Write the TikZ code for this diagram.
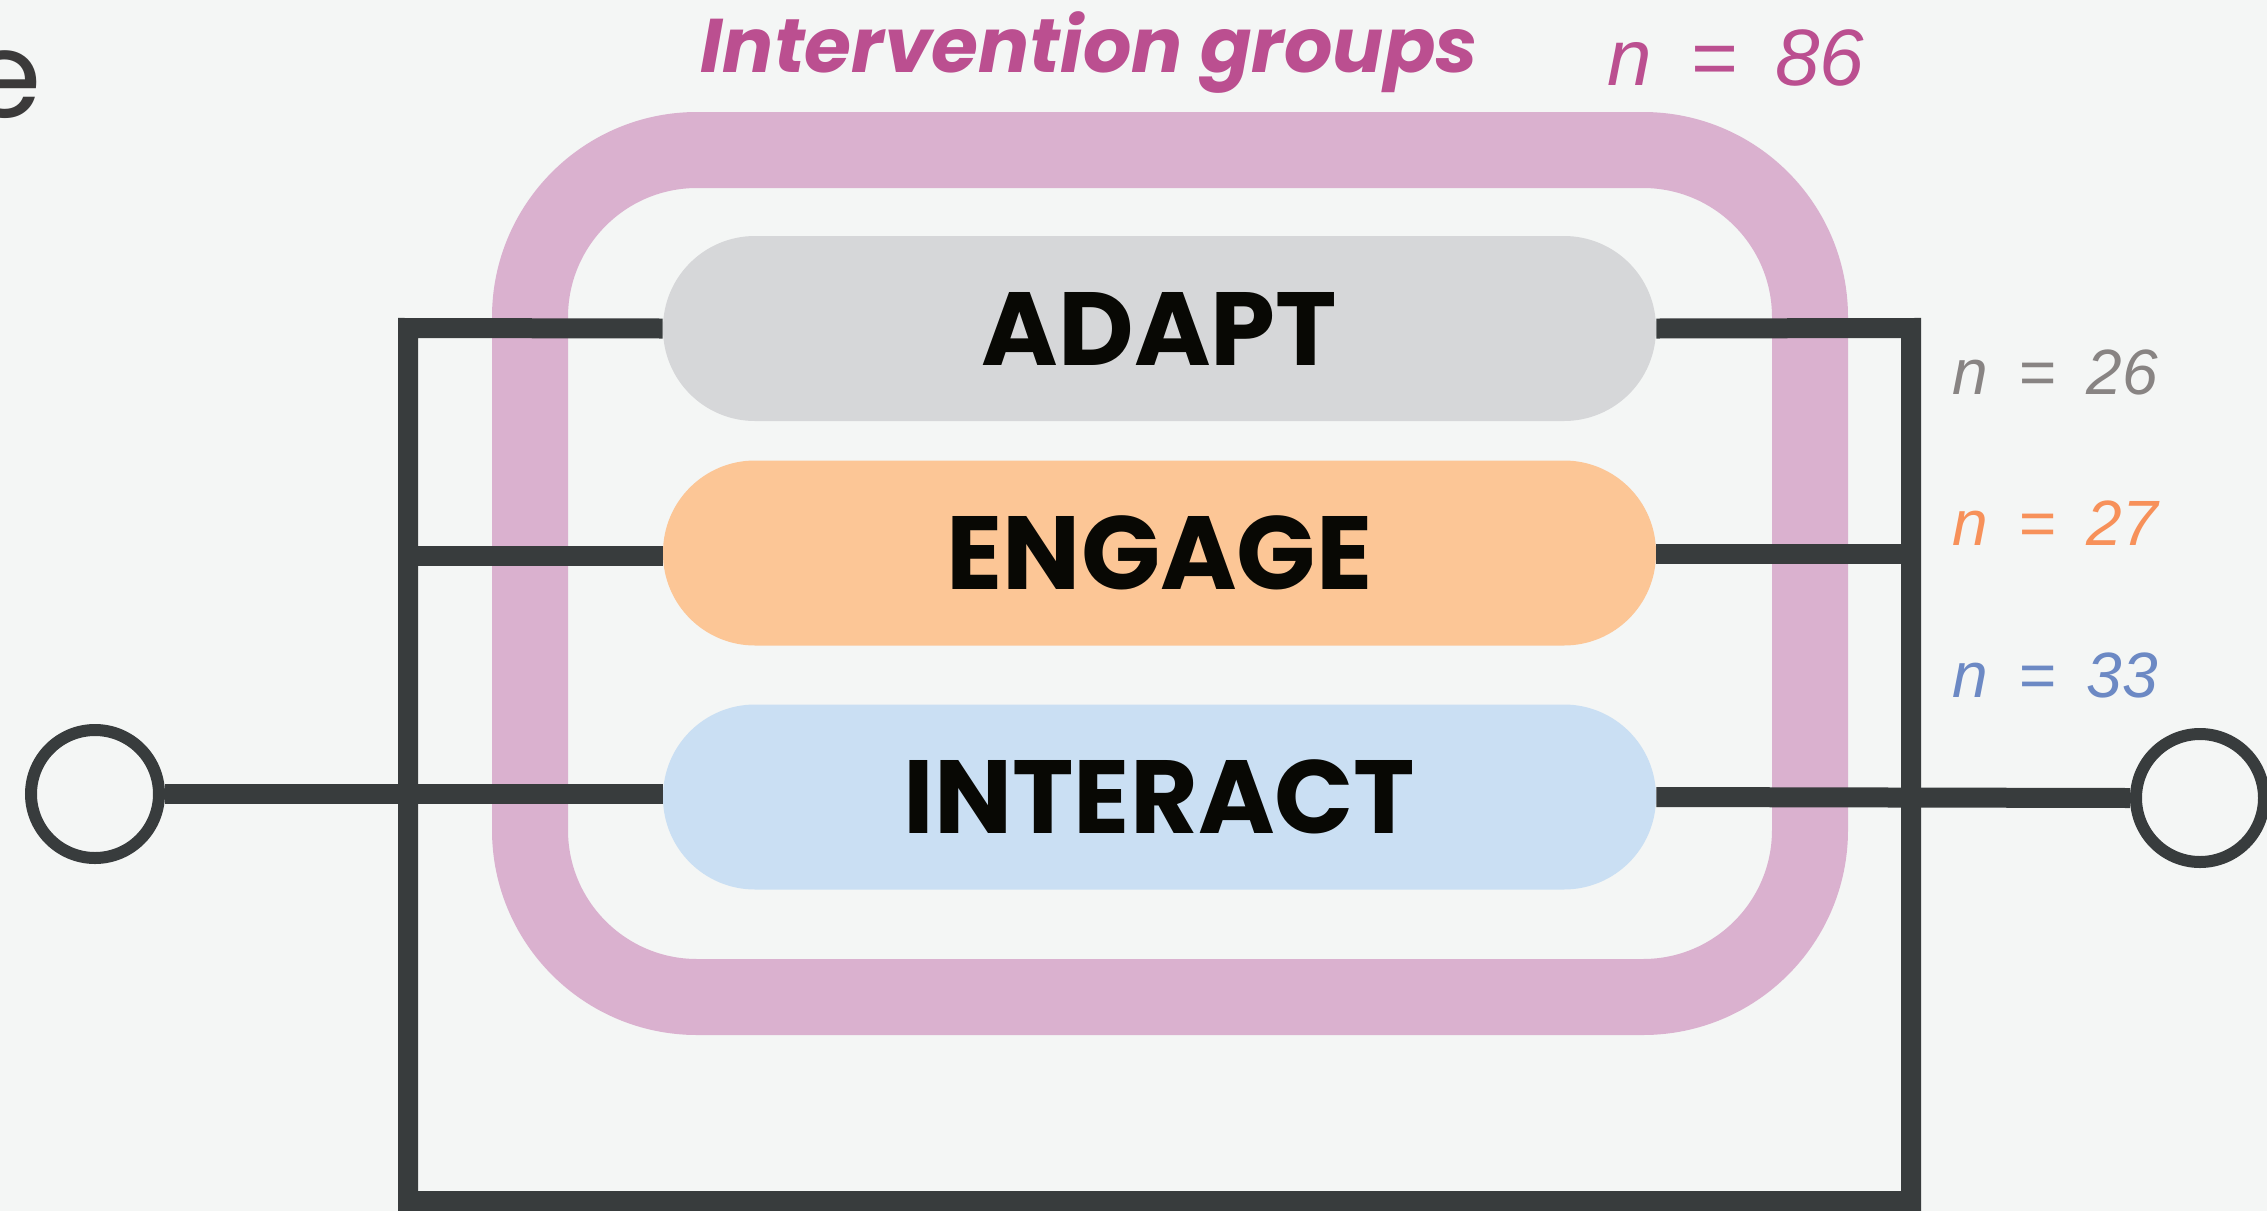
\documentclass[tikz,border=0pt]{standalone}
\usepackage{fontspec}
\setmainfont{Liberation Sans}
\newfontfamily\popfont{Poppins}
\newfontfamily\nfont{Liberation Sans}
\definecolor{bgc}{HTML}{F4F6F5}
\definecolor{darkc}{HTML}{383C3D}
\definecolor{pinkc}{HTML}{DAB1CF}
\definecolor{adaptc}{HTML}{D6D7D9}
\definecolor{engagec}{HTML}{FCC696}
\definecolor{interactc}{HTML}{CADFF3}
\definecolor{titlec}{HTML}{BB4F90}
\definecolor{graync}{HTML}{888483}
\definecolor{orangenc}{HTML}{F7915A}
\definecolor{bluenc}{HTML}{6C89C4}
\definecolor{txtc}{HTML}{080804}
\definecolor{ec}{HTML}{3B3A3A}
\newcommand{\nsp}{\hspace{0.48em}}
\begin{document}
\begin{tikzpicture}[x=0.5pt,y=-0.5pt,
  grpbox/.style={rectangle, rounded corners=46pt, minimum width=496.5pt, minimum height=92.5pt,
    inner sep=0pt, text=txtc, font=\popfont\bfseries\fontsize{52}{52}\selectfont},
  endcirc/.style={circle, draw=darkc, line width=6pt, fill=bgc, minimum size=64pt, inner sep=0pt},
  darkline/.style={draw=darkc, line width=10pt},
  nlabel/.style={anchor=base west, inner sep=0pt, font=\nfont\itshape\fontsize{32}{32}\selectfont}
]
\useasboundingbox (0,0) rectangle (2267,1211);
\fill[bgc] (0,0) rectangle (2267,1211);

% partial letter at top-left
\node[anchor=base east, inner sep=0pt, text=ec, font=\popfont\fontsize{60}{60}\selectfont] (frag) at (42,117) {e};

% intervention group outline
\draw[pinkc, line width=38pt, rounded corners=83.5pt] (530,150) rectangle (1810,997);

% title
\node[anchor=base west, inner sep=0pt, text=titlec, font=\popfont\bfseries\itshape\fontsize{38}{38}\selectfont] (title) at (700,72) {Intervention groups};
\node[anchor=base west, inner sep=0pt, text=titlec, font=\nfont\itshape\fontsize{40}{40}\selectfont] (ntot) at (1607,85) {n\nsp=\nsp86};

% group boxes
\node[grpbox, fill=adaptc] (adapt) at (1159.5,328.5) {ADAPT};
\node[grpbox, fill=engagec] (engage) at (1159.5,553) {ENGAGE};
\node[grpbox, fill=interactc] (interact) at (1159.5,797) {INTERACT};

% end circles
\node[endcirc] (lcirc) at (95,794) {};
\node[endcirc] (rcirc) at (2200,798) {};

% frame coordinates
\coordinate (tl) at (408,328);
\coordinate (bl) at (408,1201);
\coordinate (br) at (1911,1201);
\coordinate (tr) at (1911,328);
\coordinate (el) at (408,556);
\coordinate (er) at (1911,554);

% connectors
\draw[darkline, line join=miter] (adapt.west) -- (tl) -- (bl) -- (br) -- (tr) -- (adapt.east);
\draw[darkline] (el) -- (el -| engage.west);
\draw[darkline] (er -| engage.east) -- (er);
\draw[darkline] (lcirc.east) -- (lcirc.east -| interact.west);
\draw[darkline] (interact.east) -- (rcirc.west);

% n labels
\node[nlabel, text=graync] (n1) at (1952,394) {n\nsp=\nsp26};
\node[nlabel, text=orangenc] (n2) at (1952,545) {n\nsp=\nsp27};
\node[nlabel, text=bluenc] (n3) at (1952,697) {n\nsp=\nsp33};
\end{tikzpicture}
\end{document}
